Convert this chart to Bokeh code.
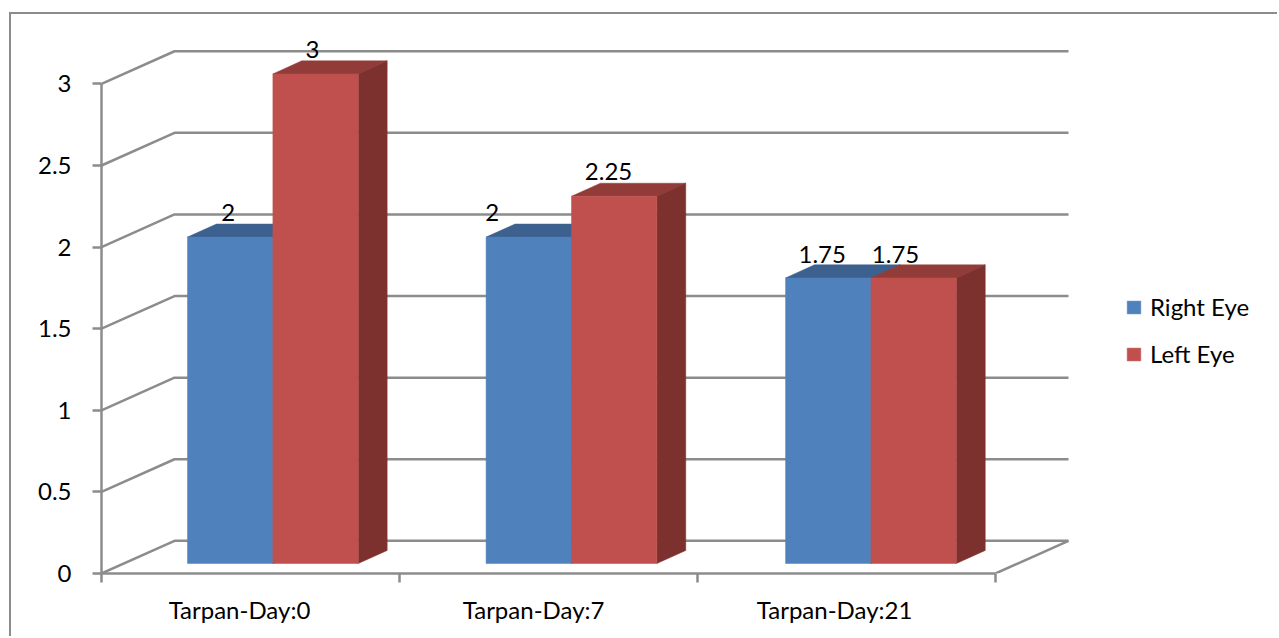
from bokeh.plotting import figure
from bokeh.models import (ColumnDataSource, LinearAxis, FixedTicker, Range1d, Legend, LegendItem)
from bokeh.core.properties import value
from bokeh.embed import file_html
from bokeh.resources import INLINE

categories = ["Tarpan-Day:0", "Tarpan-Day:7", "Tarpan-Day:21"]
right_eye = [2, 2, 1.75]
left_eye = [3, 2.25, 1.75]
right_labels = ["2", "2", "1.75"]
left_labels = ["3", "2.25", "1.75"]
y_ticks = [0, 0.5, 1, 1.5, 2, 2.5, 3]
y_tick_labels = ["0", "0.5", "1", "1.5", "2", "2.5", "3"]

FONT = "Lato"
FS = "24px"
GRAY = "#8c8c8c"
LW = 2.5
BLUE, BLUE_TOP, BLUE_SIDE = "#4f81bd", "#3c618f", "#355680"
RED, RED_TOP, RED_SIDE = "#c0504d", "#923c3a", "#7d312f"

# pseudo-3D geometry, in data units
WALL_DX, WALL_DY = 0.245, 0.2
BAR_DX, BAR_DY = 0.097, 0.08
BAR_X0, BAR_W, BAR_Y0 = 0.2886, 0.2865, 0.0613
GROUP_SHIFT = [0, 0.002, 0.007]
N = len(categories)

W, H, ML, MB, MT = 1268, 624, 90, 65, 0
p = figure(width=W, height=H, output_backend="svg", toolbar_location=None,
           x_axis_type=None, y_axis_type=None,
           x_range=Range1d(0, (W - ML) / 298), y_range=Range1d(0, (H - MB - MT) / 163.2),
           min_border_left=ML, min_border_right=0, min_border_top=MT, min_border_bottom=MB,
           margin=(12, 0, 0, 9))
p.styles = {"border-left": f"2px solid {GRAY}", "border-top": f"2px solid {GRAY}"}
p.grid.visible = False
p.outline_line_color = None
p.background_fill_color = "white"

# walls and floor
gx = [[0, WALL_DX, N + WALL_DX] for _ in y_ticks]
gy = [[v, v + WALL_DY, v + WALL_DY] for v in y_ticks]
p.multi_line(gx, gy, line_color=GRAY, line_width=LW)
p.line([N, N + WALL_DX], [0, WALL_DY], line_color=GRAY, line_width=LW)

def bar(series, offset, front, top, side):
    x0 = [i + BAR_X0 + offset + GROUP_SHIFT[i] for i in range(N)]
    x1 = [x + BAR_W for x in x0]
    y0 = [BAR_Y0] * N
    y1 = [BAR_Y0 + v for v in series]
    p.patches([[a, a + BAR_DX, b + BAR_DX, b] for a, b in zip(x0, x1)],
              [[t, t + BAR_DY, t + BAR_DY, t] for t in y1],
              fill_color=top, line_color=top, line_width=0.5)
    p.patches([[b, b + BAR_DX, b + BAR_DX, b] for b in x1],
              [[BAR_Y0, BAR_Y0 + BAR_DY, t + BAR_DY, t] for t in y1],
              fill_color=side, line_color=side, line_width=0.5)
    return p.quad(left=x0, right=x1, bottom=y0, top=y1, fill_color=front, line_color=front, line_width=0.5)

r_right = bar(right_eye, 0, BLUE, BLUE_TOP, BLUE_SIDE)
r_left = bar(left_eye, BAR_W, RED, RED_TOP, RED_SIDE)

# data labels
lab = ColumnDataSource(dict(
    x=[i + BAR_X0 + BAR_W / 2 for i in range(N)] + [i + BAR_X0 + 1.5 * BAR_W for i in range(N)],
    y=[BAR_Y0 + v for v in right_eye] + [BAR_Y0 + v for v in left_eye],
    t=right_labels + left_labels,
    dx=[-2, -36, -4, -3, -5, -16],
    dy=[-25, -25, -23, -24, -25, -23],
))
p.text("x", "y", text="t", source=lab, x_offset="dx", y_offset="dy", text_align="center",
       text_baseline="middle", text_font=value(FONT), text_font_size=FS, text_color="black")

# axes
ya = LinearAxis(ticker=FixedTicker(ticks=y_ticks), bounds=(0, 3),
                major_label_overrides=dict(zip(y_ticks, y_tick_labels)))
ya.major_tick_out, ya.major_tick_in = 9, 0
ya.minor_tick_out = 0
ya.axis_line_color = ya.major_tick_line_color = GRAY
ya.axis_line_width = ya.major_tick_line_width = LW
ya.major_label_standoff = 21
ya.major_label_text_font = FONT
ya.major_label_text_font_size = FS
ya.major_label_text_color = "black"
ya.major_label_text_line_height = 1.5
p.add_layout(ya, "left")

cat_ticks = [0.463, 1.45, 2.46]
xa = LinearAxis(ticker=FixedTicker(ticks=cat_ticks, minor_ticks=[0, 1, 2, 3]), bounds=(0, 3),
                major_label_overrides=dict(zip(cat_ticks, categories)))
xa.major_tick_out = xa.major_tick_in = 0
xa.minor_tick_out, xa.minor_tick_in = 9, 0
xa.axis_line_color = xa.minor_tick_line_color = GRAY
xa.axis_line_width = xa.minor_tick_line_width = LW
xa.major_label_standoff = 12
xa.major_label_text_font = FONT
xa.major_label_text_font_size = FS
xa.major_label_text_color = "black"
p.add_layout(xa, "below")

legend = Legend(items=[LegendItem(label="Right Eye", renderers=[r_right]),
                       LegendItem(label="Left Eye", renderers=[r_left])],
                location=(1024, 205), orientation="vertical",
                glyph_width=17, glyph_height=16, spacing=18, label_standoff=8, padding=0, margin=0,
                background_fill_alpha=0, border_line_color=None,
                label_text_font=FONT, label_text_font_size=FS, label_text_color="black")
p.add_layout(legend, "center")

open("out.html", "w").write(file_html(p, INLINE))
